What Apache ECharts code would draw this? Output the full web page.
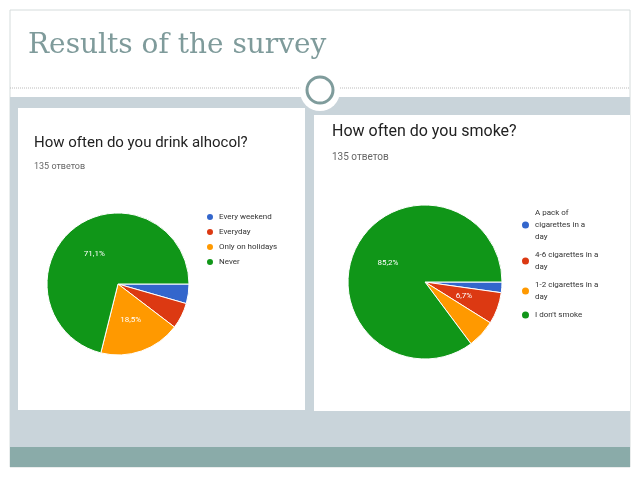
<!DOCTYPE html>
<html><head><meta charset="utf-8">
<script src="https://cdn.jsdelivr.net/npm/echarts@6/dist/echarts.min.js"></script>
<style>html,body{margin:0;padding:0;background:#fff}#c{width:640px;height:480px}</style>
</head><body><div id="c"></div>
<script>
const colors = ['#3366cc', '#dc3912', '#ff9900', '#109618'];
const alcoholCats = ['Every weekend', 'Everyday', 'Only on holidays', 'Never'];
const alcoholCounts = [6, 8, 25, 96];
const smokeCats = ['A pack of\ncigarettes in a\nday', '4-6 cigarettes in a\nday', '1-2 cigarettes in a\nday', "I don't smoke"];
const smokeCounts = [3, 9, 8, 115];

const chart = echarts.init(document.getElementById('c'));

function pieSeries(cats, vals, center, radius, showIdx) {
    return {
        type: 'pie', center: center, radius: radius, startAngle: 0, clockwise: true,
        animation: false,
        itemStyle: { borderColor: '#fff', borderWidth: 1 },
        label: {
            position: 'inside', color: '#fff', fontSize: 8, fontFamily: 'Roboto',
            formatter: p => showIdx.includes(p.dataIndex) ? p.percent.toFixed(1).replace('.', ',') + '%' : ''
        },
        labelLine: { show: false },
        data: cats.map((c, i) => ({ name: c, value: vals[i], itemStyle: { color: colors[i] } }))
    };
}

chart.setOption({
    graphic: [
        { type: 'rect', shape: { x: 10, y: 10, width: 620, height: 457 }, style: { fill: '#fff', stroke: '#d5dcdc' } },
        { type: 'line', shape: { x1: 10, y1: 88, x2: 630, y2: 88 }, style: { stroke: '#bbb', lineDash: [1, 1] } },
        { type: 'rect', shape: { x: 10, y: 97, width: 620, height: 350 }, style: { fill: '#c9d4da' } },
        { type: 'rect', shape: { x: 10, y: 447, width: 620, height: 20 }, style: { fill: '#8aaba9' } },
        { type: 'rect', shape: { x: 18, y: 108, width: 287, height: 302 }, style: { fill: '#fff' } },
        { type: 'rect', shape: { x: 314, y: 115, width: 316, height: 296 }, style: { fill: '#fff' } },
        { type: 'circle', shape: { cx: 320, cy: 91, r: 20 }, style: { fill: '#fff' }, z: 10 },
        { type: 'circle', shape: { cx: 320, cy: 90, r: 13 }, style: { fill: 'none', stroke: '#7f9c9c', lineWidth: 3 }, z: 11 },
        { type: 'text', left: 28, top: 32, style: { text: 'Results of the survey', fill: '#7f9b9b', font: '28px "DejaVu Serif"' } },
        { type: 'text', left: 34, top: 136, style: { text: 'How often do you drink alhocol?', fill: '#222', font: '15px Roboto' } },
        { type: 'text', left: 34, top: 162, style: { text: '135 ответов', fill: '#666', font: '9px Roboto' } },
        { type: 'text', left: 332, top: 124, style: { text: 'How often do you smoke?', fill: '#222', font: '16px Roboto' } },
        { type: 'text', left: 332, top: 152, style: { text: '135 ответов', fill: '#666', font: '10px Roboto' } }
    ],
    legend: [
        { orient: 'vertical', left: 200, top: 207, itemWidth: 8, itemHeight: 8, itemGap: 5, icon: 'circle',
          textStyle: { fontSize: 8, color: '#333', fontFamily: 'Roboto' }, data: alcoholCats },
        { orient: 'vertical', left: 515, top: 202, itemWidth: 9, itemHeight: 9, itemGap: 6, icon: 'circle',
          textStyle: { fontSize: 8, color: '#333', fontFamily: 'Roboto', lineHeight: 12 }, data: smokeCats }
    ],
    series: [
        pieSeries(alcoholCats, alcoholCounts, [118, 284], 71, [2, 3]),
        pieSeries(smokeCats, smokeCounts, [425, 282], 77, [1, 3])
    ]
});
</script></body></html>
